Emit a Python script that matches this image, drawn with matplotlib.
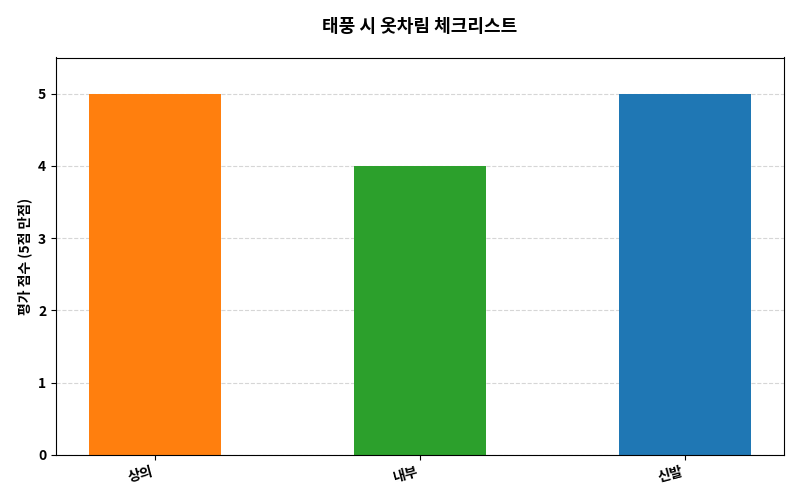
import matplotlib
matplotlib.use("Agg")
import matplotlib.pyplot as plt

plt.rcParams['font.family'] = ['Noto Sans CJK KR', 'DejaVu Sans']

categories = ['상의', '내부', '신발']
scores = [5, 4, 5]
colors = ['#ff7f0e', '#2ca02c', '#1f77b4']

fig, ax = plt.subplots(figsize=(8, 5), dpi=100)
fig.subplots_adjust(left=0.07, right=0.98, top=0.885, bottom=0.09)
ax.bar(categories, scores, color=colors, width=0.5, zorder=2)
ax.set_ylim(0, 5.5)
ax.set_yticks(range(0, 6))
ax.grid(axis='y', linestyle='--', color='#cccccc', alpha=0.8, zorder=0)
ax.set_ylabel('평가 점수 (5점 만점)', fontweight='bold', fontsize=10)
ax.set_title('태풍 시 옷차림 체크리스트', fontweight='bold', fontsize=13, pad=18)
for lab in ax.get_xticklabels():
    lab.set_rotation(15)
    lab.set_ha('right')
    lab.set_fontweight('bold')
for lab in ax.get_yticklabels():
    lab.set_fontweight('bold')
fig.savefig('out.png')
